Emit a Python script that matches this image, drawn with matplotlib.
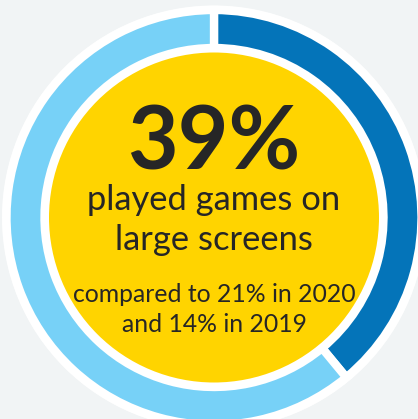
import matplotlib.pyplot as plt
from matplotlib.patches import Circle

# data
share_labels = ['large screens', 'other']
share_values = [39, 61]
share_colors = ['#0474b9', '#77d1f7']

headline = '39%'
caption_lines = ['played games on', 'large screens']
note_lines = ['compared to 21% in 2020', 'and 14% in 2019']

W, H = 418, 419
fig = plt.figure(figsize=(W / 100, H / 100), dpi=100, facecolor='#f1f4f5')
ax = fig.add_axes([0, 0, 1, 1])
ax.set_xlim(0, W)
ax.set_ylim(0, H)
ax.set_aspect('equal')
ax.axis('off')

cx, cy = 214, H - 217.5

# white backing disc
ax.add_patch(Circle((cx, cy), 212, facecolor='white', edgecolor='none', zorder=0))

# edge stroke eats ~4px on each side, so pad radius / width
ax.pie(share_values, colors=share_colors, center=(cx, cy), radius=207.5,
       startangle=90, counterclock=False,
       wedgeprops=dict(width=38, edgecolor='white', linewidth=6))
ax.set_xlim(0, W)
ax.set_ylim(0, H)

# yellow centre
ax.add_patch(Circle((cx, cy), 165, facecolor='#ffd400', edgecolor='none', zorder=3))

txt = '#262626'
fam = ['Lato', 'DejaVu Sans']
ax.text(cx, H - 170, headline, ha='center', va='baseline', fontsize=63,
        fontweight='bold', color=txt, family=fam, zorder=4)
for i, line in enumerate(caption_lines):
    ax.text(cx, H - 210 - i * 40, line, ha='center', va='baseline', fontsize=24.8,
            color=txt, family=fam, zorder=4)
for i, line in enumerate(note_lines):
    ax.text(cx, H - 302 - i * 30, line, ha='center', va='baseline', fontsize=17.8,
            color=txt, family=fam, zorder=4)

fig.savefig('out.png', dpi=100, facecolor=fig.get_facecolor())
